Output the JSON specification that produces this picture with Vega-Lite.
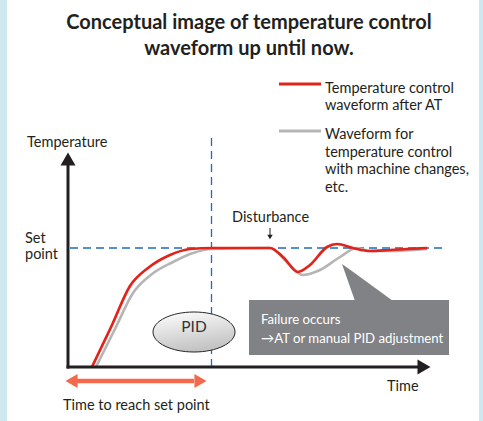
{
  "$schema": "https://vega.github.io/schema/vega-lite/v6.json",
  "width": 483,
  "height": 421,
  "autosize": {"type": "fit", "contains": "padding"},
  "padding": {"left": 7, "right": 4, "top": 0, "bottom": 0},
  "background": "#cfe8ef",
  "config": {"view": {"stroke": null, "fill": "#ffffff"}, "font": "Lato"},
  "datasets": {
    "red": [
      {"t": 24, "v": 0}, {"t": 44, "v": 42}, {"t": 62, "v": 81}, {"t": 80, "v": 99},
      {"t": 102, "v": 112}, {"t": 122, "v": 118}, {"t": 144, "v": 119}, {"t": 202, "v": 119},
      {"t": 215, "v": 110}, {"t": 230, "v": 95}, {"t": 242, "v": 102}, {"t": 259, "v": 120},
      {"t": 269, "v": 123}, {"t": 285, "v": 119}, {"t": 302, "v": 116}, {"t": 322, "v": 117},
      {"t": 359, "v": 119}
    ],
    "gray": [
      {"t": 28, "v": 0}, {"t": 47, "v": 38}, {"t": 65, "v": 74}, {"t": 84, "v": 93},
      {"t": 105, "v": 105}, {"t": 125, "v": 114}, {"t": 144, "v": 118}, {"t": 202, "v": 119},
      {"t": 219, "v": 105}, {"t": 235, "v": 92}, {"t": 252, "v": 97}, {"t": 272, "v": 110},
      {"t": 289, "v": 119}, {"t": 302, "v": 116}, {"t": 322, "v": 116}, {"t": 359, "v": 118}
    ],
    "dashH": [{"t": 2, "t2": 375, "v": 119}],
    "dashV": [{"t": 143.5, "v": 0, "v2": 232}],
    "axes": [
      {"t": 0, "t2": 0, "v": -1.5, "v2": 204},
      {"t": -1.5, "t2": 352, "v": 0, "v2": 0}
    ],
    "arrowUp": [{"t": 0, "v": 208}],
    "arrowRight": [{"t": 356, "v": 0}],
    "span": [{"t": 8, "t2": 126, "v": -14}],
    "spanLeft": [{"t": 3.5, "v": -14}],
    "spanRight": [{"t": 132.5, "v": -14}],
    "dist": [{"t": 202, "v": 139, "v2": 132}],
    "distHead": [{"t": 202, "v": 130}],
    "callout": [{"t": 181, "t2": 381, "v": 12, "v2": 67}],
    "pointer": [
      {"t": 274, "v": 103, "v2": 103},
      {"t": 287, "v": 93.8, "v2": 66},
      {"t": 325, "v": 66, "v2": 66}
    ],
    "legRed": [{"t": 211, "t2": 253, "v": 283}],
    "legGray": [{"t": 211, "t2": 253, "v": 236}],
    "pid": [{"t": 126, "v": 35, "label": "PID"}],
    "title": [
      {"t": 181, "v": 338, "label": "Conceptual image of temperature control"},
      {"t": 181, "v": 312, "label": "waveform up until now."}
    ],
    "labels": [
      {"t": 257, "v": 274, "label": "Temperature control"},
      {"t": 257, "v": 257, "label": "waveform after AT"},
      {"t": 257, "v": 228, "label": "Waveform for"},
      {"t": 257, "v": 210, "label": "temperature control"},
      {"t": 257, "v": 193, "label": "with machine changes,"},
      {"t": 257, "v": 175, "label": "etc."},
      {"t": -41, "v": 220, "label": "Temperature"},
      {"t": -43, "v": 124, "label": "Set"},
      {"t": -43, "v": 108, "label": "point"},
      {"t": 164, "v": 145, "label": "Disturbance"},
      {"t": 319, "v": -24, "label": "Time"},
      {"t": -5, "v": -43, "label": "Time to reach set point"}
    ],
    "calloutText": [
      {"t": 193, "v": 43, "label": "Failure occurs"},
      {"t": 193, "v": 24, "label": "→AT or manual PID adjustment"}
    ]
  },
  "layer": [
    {
      "data": {"name": "callout"},
      "mark": {"type": "rect", "color": "#808285"},
      "encoding": {
        "x": {"field": "t", "type": "quantitative", "scale": {"domain": [-61, 411], "nice": false, "zero": false}, "axis": null},
        "x2": {"field": "t2"},
        "y": {"field": "v", "type": "quantitative", "scale": {"domain": [-54, 367], "nice": false, "zero": false}, "axis": null},
        "y2": {"field": "v2"}
      }
    },
    {
      "data": {"name": "pointer"},
      "mark": {"type": "area", "color": "#808285", "interpolate": "linear"},
      "encoding": {
        "x": {"field": "t", "type": "quantitative"},
        "y": {"field": "v", "type": "quantitative"},
        "y2": {"field": "v2"}
      }
    },
    {
      "data": {"name": "dashH"},
      "mark": {"type": "rule", "color": "#1f6cbc", "strokeWidth": 1.3, "strokeDash": [8, 5]},
      "encoding": {
        "x": {"field": "t", "type": "quantitative"},
        "x2": {"field": "t2"},
        "y": {"field": "v", "type": "quantitative"}
      }
    },
    {
      "data": {"name": "dashV"},
      "mark": {"type": "rule", "color": "#1f6cbc", "strokeWidth": 1.3, "strokeDash": [8, 5]},
      "encoding": {
        "x": {"field": "t", "type": "quantitative"},
        "y": {"field": "v", "type": "quantitative"},
        "y2": {"field": "v2"}
      }
    },
    {
      "data": {"name": "pid"},
      "mark": {
        "type": "point",
        "filled": true,
        "shape": "M-1,0C-1,-0.27,-0.552,-0.488,0,-0.488C0.552,-0.488,1,-0.27,1,0C1,0.27,0.552,0.488,0,0.488C-0.552,0.488,-1,0.27,-1,0Z",
        "size": 6724,
        "opacity": 1,
        "fill": {"gradient": "linear", "x1": 0, "y1": 0, "x2": 0.3, "y2": 1, "stops": [{"offset": 0, "color": "#ffffff"}, {"offset": 1, "color": "#c4c4c4"}]},
        "stroke": "#262626",
        "strokeWidth": 1
      },
      "encoding": {
        "x": {"field": "t", "type": "quantitative"},
        "y": {"field": "v", "type": "quantitative"}
      }
    },
    {
      "data": {"name": "gray"},
      "mark": {"type": "line", "color": "#b5b5b5", "strokeWidth": 2.6, "interpolate": "monotone"},
      "encoding": {
        "x": {"field": "t", "type": "quantitative"},
        "y": {"field": "v", "type": "quantitative"}
      }
    },
    {
      "data": {"name": "red"},
      "mark": {"type": "line", "color": "#e2231a", "strokeWidth": 2.7, "interpolate": "monotone"},
      "encoding": {
        "x": {"field": "t", "type": "quantitative"},
        "y": {"field": "v", "type": "quantitative"}
      }
    },
    {
      "data": {"name": "axes"},
      "mark": {"type": "rule", "color": "#231f20", "strokeWidth": 3},
      "encoding": {
        "x": {"field": "t", "type": "quantitative"},
        "x2": {"field": "t2"},
        "y": {"field": "v", "type": "quantitative"},
        "y2": {"field": "v2"}
      }
    },
    {
      "data": {"name": "arrowUp"},
      "mark": {"type": "point", "shape": "triangle-up", "filled": true, "size": 225, "color": "#231f20", "opacity": 1},
      "encoding": {
        "x": {"field": "t", "type": "quantitative"},
        "y": {"field": "v", "type": "quantitative"}
      }
    },
    {
      "data": {"name": "arrowRight"},
      "mark": {"type": "point", "shape": "triangle-right", "filled": true, "size": 225, "color": "#231f20", "opacity": 1},
      "encoding": {
        "x": {"field": "t", "type": "quantitative"},
        "y": {"field": "v", "type": "quantitative"}
      }
    },
    {
      "data": {"name": "span"},
      "mark": {"type": "rule", "color": "#f26a4b", "strokeWidth": 4.5},
      "encoding": {
        "x": {"field": "t", "type": "quantitative"},
        "x2": {"field": "t2"},
        "y": {"field": "v", "type": "quantitative"}
      }
    },
    {
      "data": {"name": "spanLeft"},
      "mark": {"type": "point", "shape": "triangle-left", "filled": true, "size": 196, "color": "#f26a4b", "opacity": 1},
      "encoding": {
        "x": {"field": "t", "type": "quantitative"},
        "y": {"field": "v", "type": "quantitative"}
      }
    },
    {
      "data": {"name": "spanRight"},
      "mark": {"type": "point", "shape": "triangle-right", "filled": true, "size": 196, "color": "#f26a4b", "opacity": 1},
      "encoding": {
        "x": {"field": "t", "type": "quantitative"},
        "y": {"field": "v", "type": "quantitative"}
      }
    },
    {
      "data": {"name": "dist"},
      "mark": {"type": "rule", "color": "#231f20", "strokeWidth": 1},
      "encoding": {
        "x": {"field": "t", "type": "quantitative"},
        "y": {"field": "v", "type": "quantitative"},
        "y2": {"field": "v2"}
      }
    },
    {
      "data": {"name": "distHead"},
      "mark": {"type": "point", "shape": "triangle-down", "filled": true, "size": 30, "color": "#231f20", "opacity": 1},
      "encoding": {
        "x": {"field": "t", "type": "quantitative"},
        "y": {"field": "v", "type": "quantitative"}
      }
    },
    {
      "data": {"name": "legRed"},
      "mark": {"type": "rule", "color": "#e2231a", "strokeWidth": 3},
      "encoding": {
        "x": {"field": "t", "type": "quantitative"},
        "x2": {"field": "t2"},
        "y": {"field": "v", "type": "quantitative"}
      }
    },
    {
      "data": {"name": "legGray"},
      "mark": {"type": "rule", "color": "#b5b5b5", "strokeWidth": 3},
      "encoding": {
        "x": {"field": "t", "type": "quantitative"},
        "x2": {"field": "t2"},
        "y": {"field": "v", "type": "quantitative"}
      }
    },
    {
      "data": {"name": "title"},
      "mark": {"type": "text", "fontSize": 20, "fontWeight": "bold", "align": "center", "baseline": "alphabetic", "color": "#231f20"},
      "encoding": {
        "x": {"field": "t", "type": "quantitative"},
        "y": {"field": "v", "type": "quantitative"},
        "text": {"field": "label"}
      }
    },
    {
      "data": {"name": "labels"},
      "mark": {"type": "text", "fontSize": 14.5, "align": "left", "baseline": "alphabetic", "color": "#231f20"},
      "encoding": {
        "x": {"field": "t", "type": "quantitative"},
        "y": {"field": "v", "type": "quantitative"},
        "text": {"field": "label"}
      }
    },
    {
      "data": {"name": "calloutText"},
      "mark": {"type": "text", "fontSize": 13.2, "align": "left", "baseline": "alphabetic", "color": "#ffffff"},
      "encoding": {
        "x": {"field": "t", "type": "quantitative"},
        "y": {"field": "v", "type": "quantitative"},
        "text": {"field": "label"}
      }
    },
    {
      "data": {"name": "pid"},
      "mark": {"type": "text", "fontSize": 15.5, "align": "center", "baseline": "alphabetic", "color": "#333333"},
      "encoding": {
        "x": {"field": "t", "type": "quantitative"},
        "y": {"field": "v", "type": "quantitative"},
        "text": {"field": "label"}
      }
    }
  ]
}
